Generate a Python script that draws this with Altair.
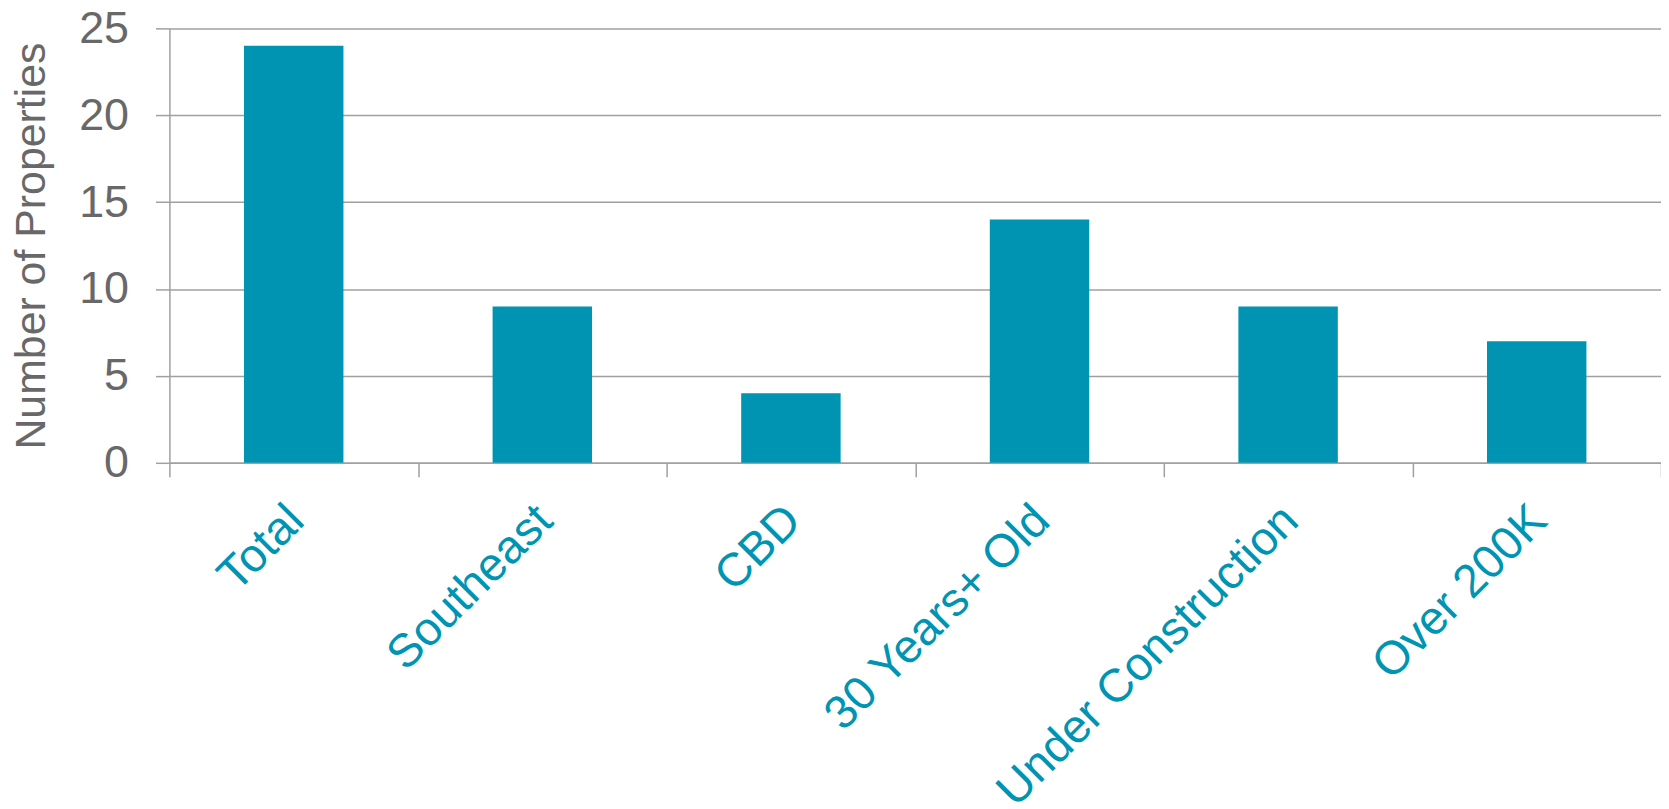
import altair as alt
import pandas as pd

categories = ["Total", "Southeast", "CBD", "30 Years+ Old", "Under Construction", "Over 200K"]
counts = [24, 9, 4, 14, 9, 7]
y_ticks = [0, 5, 10, 15, 20, 25]

df = pd.DataFrame({"category": categories, "count": counts})

FONT = "Liberation Sans, Arial, sans-serif"
GRAY = "#686868"
TEAL = "#0094b3"
LINE = "#a0a0a0"

chart = alt.Chart(df).mark_bar(
    color=TEAL, width=alt.RelativeBandSize(0.4)
).encode(
    x=alt.X(
        "category:N",
        sort=categories,
        title=None,
        scale=alt.Scale(paddingInner=0, paddingOuter=0),
        axis=alt.Axis(
            labelAngle=-45,
            labelAlign="right",
            labelBaseline="top",
            labelFont=FONT,
            labelFontSize=47,
            labelColor=TEAL,
            labelOffset=-14,
            labelPadding=20,
            tickBand="extent",
            tickSize=14,
            tickColor=LINE,
            tickWidth=1.5,
            domainColor=LINE,
            domainWidth=1.5,
            grid=False,
            labelOverlap=False,
            labelLimit=0,
        ),
    ),
    y=alt.Y(
        "count:Q",
        title="Number of Properties",
        scale=alt.Scale(domain=[0, 25], nice=False),
        axis=alt.Axis(
            values=y_ticks,
            labelFont=FONT,
            labelFontSize=45,
            labelColor=GRAY,
            labelPadding=27,
            tickSize=14,
            tickColor=LINE,
            tickWidth=1.5,
            domainColor=LINE,
            domainWidth=1.5,
            gridColor=LINE,
            gridWidth=1.5,
            titleFont=FONT,
            titleFontSize=43,
            titleFontWeight="normal",
            titleColor=GRAY,
            titleAngle=270,
            titleAlign="center",
            titleBaseline="alphabetic",
            titleX=-125,
            titleY=218,
        ),
    ),
).properties(
    width=1497,
    height=436,
    autosize=alt.AutoSizeParams(type="none"),
    padding={"left": 162, "top": 19, "right": 0, "bottom": 346},
).configure_view(stroke=None)

chart.save("out.html", embed_options={"renderer": "svg", "actions": False})
